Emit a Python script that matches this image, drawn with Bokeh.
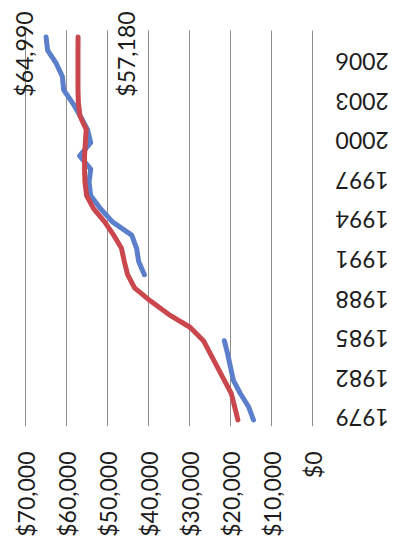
import math

from bokeh.core.properties import value
from bokeh.embed import file_html
from bokeh.models import FixedTicker, Label, NumeralTickFormatter, Range1d
from bokeh.plotting import figure
from bokeh.resources import INLINE

# Annual values, 1979-2008
years = list(range(1979, 2009))

red_values = [
    18200, 19000, 19800, 21500, 23200, 24900, 26600, 29800, 35100, 39500,
    43400, 45100, 45900, 46600, 48500, 50700, 53400, 55100, 55500, 55600,
    55600, 55400, 55200, 56700, 57100, 57200, 57200, 57200, 57200, 57180,
]

nan = float("nan")
blue_values = [
    14400, 15600, 17600, 19300, 20000, 20700, 21500, nan, nan, nan,
    nan, 41000, 42400, 42900, 44100, 48800, 51700, 54100, 54500, 54100,
    56800, 54100, 54900, 56600, 58500, 60700, 61000, 62500, 64600, 64990,
]

value_ticks = [0, 10000, 20000, 30000, 40000, 50000, 60000, 70000]
year_ticks = [1979, 1982, 1985, 1988, 1991, 1994, 1997, 2000, 2003, 2006]
year_labels = [str(y) for y in year_ticks]

RED = "#c9474d"
BLUE = "#5c7fcb"
TEXT = "#1c1c1c"
GRID = "#8e8e8e"
FONT = "Lato"

YEAR_LO, YEAR_HI = 1978.5, 2008.5

p = figure(
    width=394, height=544,
    output_backend="svg", toolbar_location=None,
    x_range=Range1d(76098, -20000), y_range=Range1d(YEAR_LO, 2010.77),
    x_axis_location="below", y_axis_location=None,
    min_border_left=0, min_border_right=0,
    min_border_top=0, min_border_bottom=118,
)
p.outline_line_color = None
p.background_fill_color = "white"
p.border_fill_color = "white"
p.xgrid.visible = False
p.ygrid.visible = False

# value axis (dollars), labels read upwards
xa = p.xaxis[0]
xa.ticker = FixedTicker(ticks=value_ticks)
xa.formatter = NumeralTickFormatter(format="$0,0")
xa.major_label_orientation = math.pi / 2
xa.axis_line_color = None
xa.major_tick_line_color = None
xa.minor_tick_line_color = None
xa.major_tick_out = 0
xa.major_label_standoff = 25
xa.major_label_text_font = FONT
xa.major_label_text_font_size = "23px"
xa.major_label_text_color = TEXT

# value gridlines spanning the year extent
p.segment(x0=value_ticks, y0=YEAR_LO, x1=value_ticks, y1=YEAR_HI,
          line_color=GRID, line_width=1)

# year labels, upside-down, beside the $0 line
p.text(x=0, y=year_ticks, text=year_labels, angle=math.pi,
       text_align="right", text_baseline="middle", x_offset=23, y_offset=-2,
       text_font=value(FONT), text_font_size="23px", text_color=TEXT)

p.line(blue_values, years, line_color=BLUE, line_width=5,
       line_cap="round", line_join="round")
p.line(red_values, years, line_color=RED, line_width=5,
       line_cap="round", line_join="round")

# end-point value labels
for val, dx in ((blue_values[-1], -22), (red_values[-1], 48)):
    p.add_layout(Label(
        x=val, y=years[-1], text=f"${val:,.0f}",
        angle=math.pi / 2, text_align="center", text_baseline="middle",
        x_offset=dx, y_offset=-17,
        text_font=FONT, text_font_size="23px", text_color=TEXT,
    ))

open("out.html", "w").write(file_html(p, INLINE))
